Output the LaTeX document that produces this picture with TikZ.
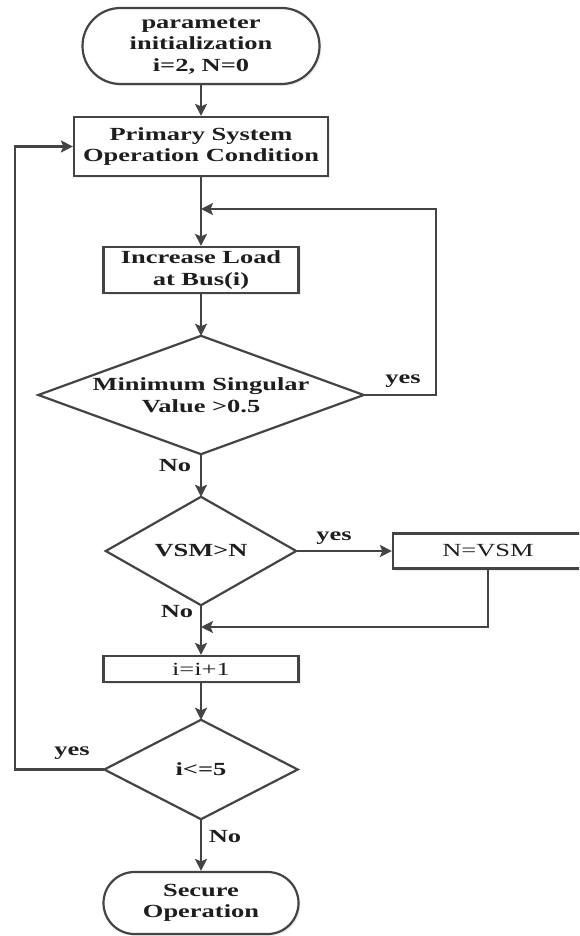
\documentclass[tikz,border=0pt]{standalone}
\usepackage{fontspec}
\setmainfont{Liberation Serif}[FakeStretch=1.43]
\usetikzlibrary{arrows.meta,shadows}
\definecolor{lc}{HTML}{444444}
\definecolor{tc}{HTML}{1E1E1E}
\begin{document}
\fontsize{18.5}{21.5}\selectfont
\begin{tikzpicture}[x=1pt,y=-1pt,
  line/.style={draw=lc, line width=2.4pt},
  arr/.style={line, -{Stealth[length=12pt,width=12pt,inset=2.5pt]}},
  box/.style={draw=lc, line width=2.2pt, fill=white, inner sep=0pt, align=center, text=tc, font=\bfseries,
    drop shadow={opacity=0.15, shadow xshift=2pt, shadow yshift=-2pt}},
  term/.style={box},
  dia/.style={inner sep=0pt, align=center, font=\bfseries, text=tc},
  lbl/.style={inner sep=0pt, font=\bfseries, text=tc}]
\useasboundingbox (0,0) rectangle (579,936);
\clip (0,0) rectangle (579,936);
\fill[white] (0,0) rectangle (579,936);

\node[term, rounded corners=38pt, minimum width=237pt, minimum height=76pt] (start) at (201,46) {parameter\\initialization\\i=2, N=0};
\node[box, minimum width=254pt, minimum height=59pt] (prim) at (201,146.5) {Primary System\\Operation Condition};
\node[box, minimum width=195pt, minimum height=46pt] (inc) at (201,270) {Increase Load\\at Bus(i)};
\node[dia, minimum width=325pt, minimum height=118pt] (d1) at (201,395) {Minimum Singular\\Value >0.5};
\draw[line, line width=2.2pt] (d1.north) -- (d1.east) -- (d1.south) -- (d1.west) -- cycle;
\node[dia, minimum width=190pt, minimum height=108pt] (d2) at (201,551) {VSM>N};
\draw[line, line width=2.2pt] (d2.north) -- (d2.east) -- (d2.south) -- (d2.west) -- cycle;
\node[box, font=\mdseries, minimum width=190pt, minimum height=35pt] (nvsm) at (488,551) {N=VSM};
\node[box, font=\mdseries, minimum width=195pt, minimum height=26pt] (upd) at (201,669) {i=i+1};
\node[dia, minimum width=193pt, minimum height=99pt] (d3) at (201,769.5) {i<=5};
\draw[line, line width=2.2pt] (d3.north) -- (d3.east) -- (d3.south) -- (d3.west) -- cycle;
\node[term, rounded corners=31pt, minimum width=195pt, minimum height=62pt] (stop) at (201,903) {Secure\\Operation};

\coordinate (j1) at (201,209);
\coordinate (R) at (436,395);
\coordinate (j2) at (201,627);
\coordinate (L) at (15,769.5);

\draw[arr] (start) -- (prim);
\draw[arr] (prim) -- (inc);
\draw[arr] (inc) -- (d1.north);
\draw[arr] (d1.east) -- (R) |- (j1);
\draw[arr] (d1.south) -- (d2.north);
\draw[arr] (d2.east) -- (nvsm.west);
\draw[arr] (nvsm.south) |- (j2);
\draw[arr] (d2.south) -- (upd.north);
\draw[arr] (upd) -- (d3.north);
\draw[arr] (d3.west) -- (L) |- (prim.west);
\draw[arr] (d3.south) -- (stop.north);

\node[lbl] (y1) at (403,381) {yes};
\node[lbl] (n1) at (175,466) {No};
\node[lbl] (y2) at (334,538) {yes};
\node[lbl] (n2) at (177,612) {No};
\node[lbl] (y3) at (72,753) {yes};
\node[lbl] (n3) at (225,837) {No};
\end{tikzpicture}
\end{document}
